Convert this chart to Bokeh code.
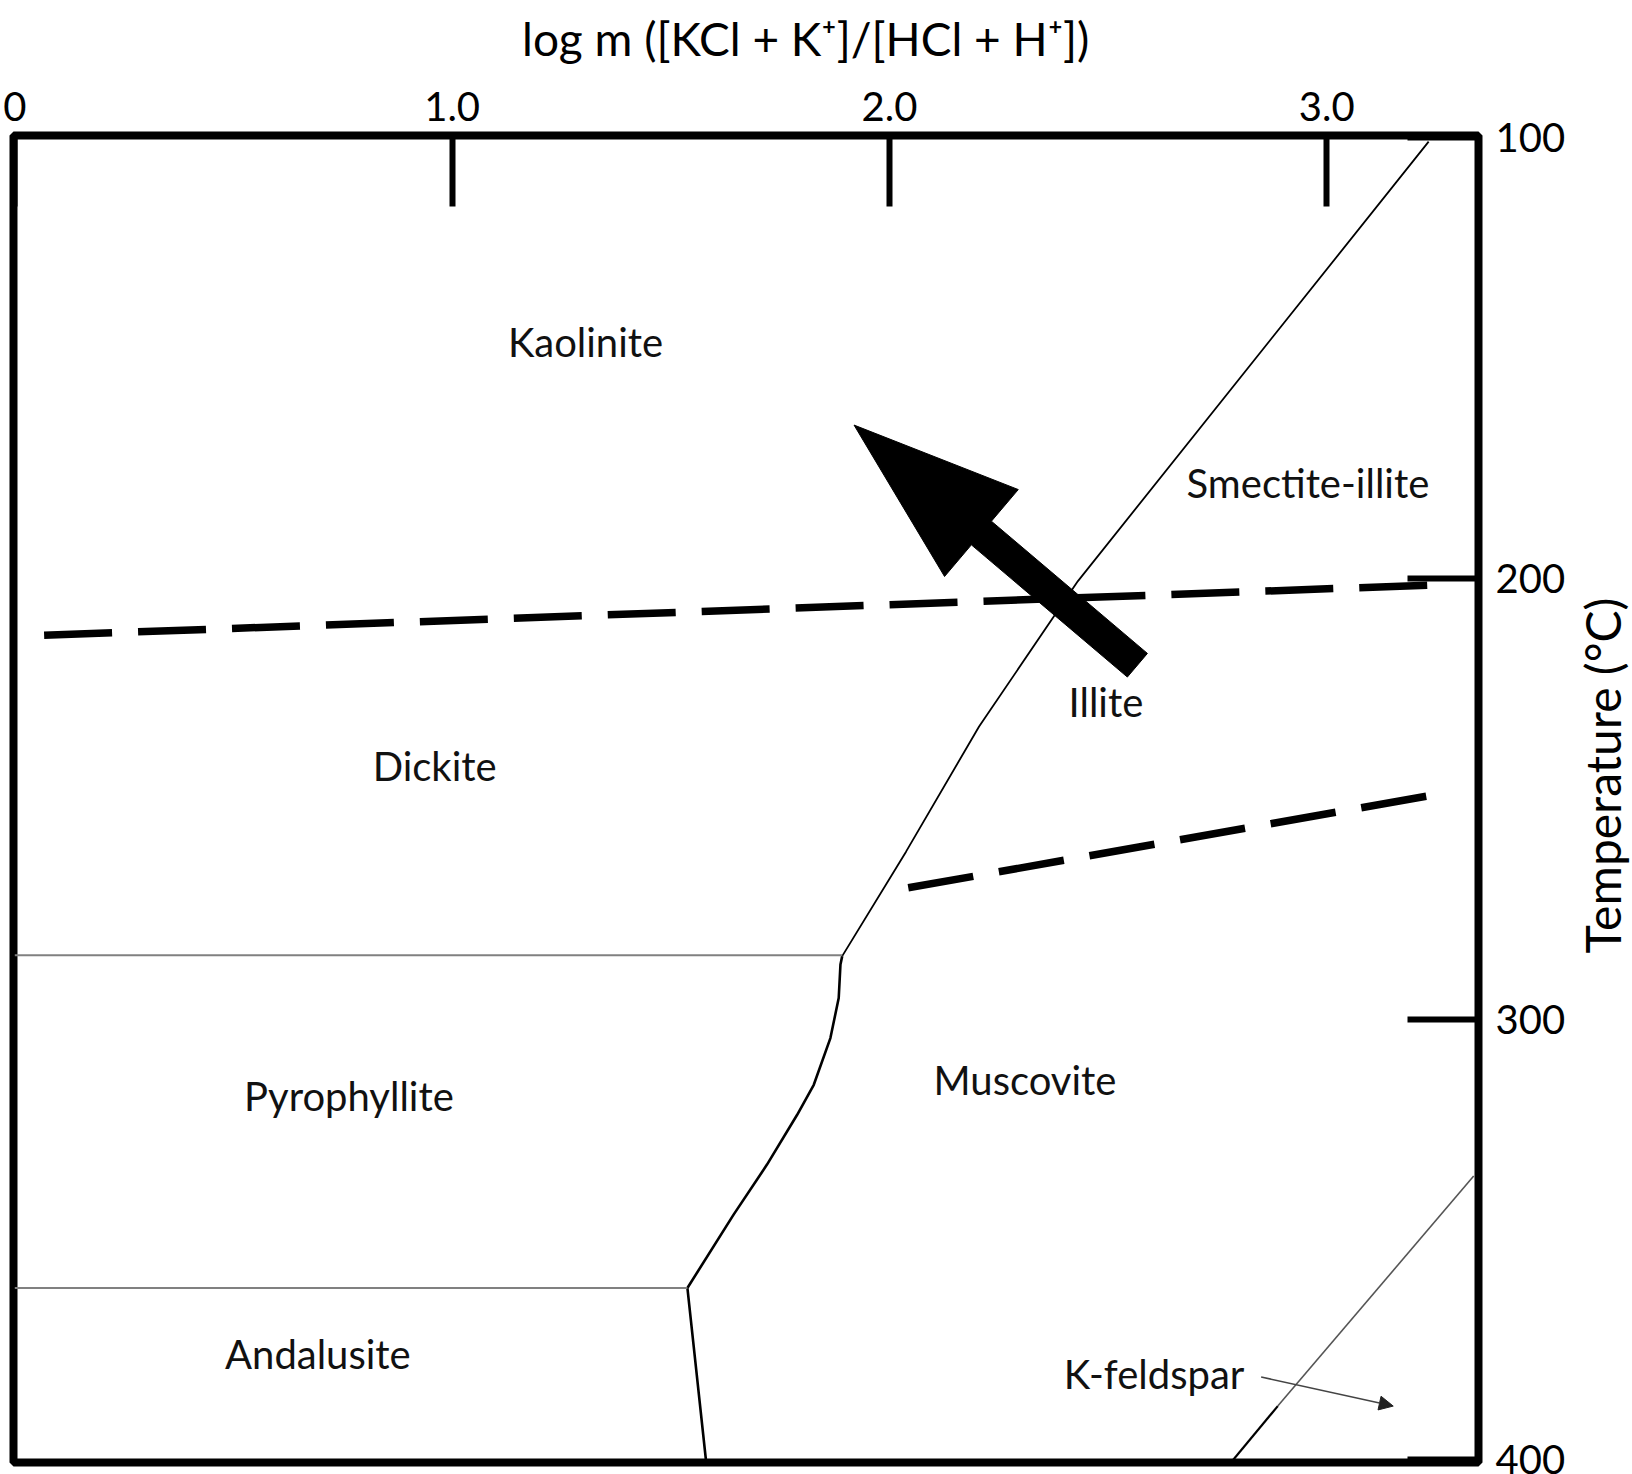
import math
from bokeh.plotting import figure
from bokeh.layouts import row, column
from bokeh.models import Range1d, LinearAxis, FixedTicker, Arrow, NormalHead
from bokeh.core.properties import value
from bokeh.embed import file_html
from bokeh.resources import INLINE

FONT = "Lato"

# ---------------- data ----------------
x_ticks = [0, 1, 2, 3]
x_tick_labels = ["0", "1.0", "2.0", "3.0"]
t_ticks = [100, 200, 300, 400]
t_tick_labels = ["100", "200", "300", "400"]
x_title = "log m ([KCl + K\u207a]/[HCl + H\u207a])"
t_title = "Temperature (\u00b0C)"

# boundary kaolinite/dickite | smectite-illite/illite (upper part)
upper_x = [3.233, 2.431, 2.205, 2.038, 1.892]
upper_t = [100.9, 200.6, 233.6, 262.0, 285.7]
# boundary pyrophyllite/andalusite | muscovite (lower part)
lower_x = [1.892, 1.888, 1.884, 1.865, 1.827, 1.789, 1.720, 1.644, 1.538, 1.581]
lower_t = [285.7, 287.6, 295.2, 304.3, 314.9, 321.7, 333.0, 344.3, 361.0, 400.6]
# dickite / pyrophyllite
dick_pyro_x = [0.0, 1.892]
dick_pyro_t = [285.5, 285.5]
# pyrophyllite / andalusite
pyro_anda_x = [0.0, 1.538]
pyro_anda_t = [361.0, 361.0]
# muscovite / K-feldspar
kfs_x = [3.336, 2.888]
kfs_t = [335.6, 387.8]
kfs_low_x = [2.888, 2.781]
kfs_low_t = [387.8, 400.6]
# K-feldspar pointer
ptr_x = [2.850, 3.152]
ptr_t = [381.2, 387.8]
# dashed lines
dash1_x = [0.067, 3.240]
dash1_t = [212.9, 201.5]
dash2_x = [2.043, 3.252]
dash2_t = [270.2, 249.0]
# big arrow (tail -> tip)
arrow_tail = (2.567, 219.7)
arrow_tip = (1.919, 165.2)

labels = ["Kaolinite", "Smectite-illite", "Illite", "Dickite", "Pyrophyllite",
          "Muscovite", "Andalusite", "K-feldspar"]
label_x = [1.305, 2.957, 2.495, 0.960, 0.764, 2.310, 0.693, 2.605]
label_t = [146.3, 178.4, 228.0, 242.6, 317.4, 313.9, 376.0, 380.5]

# ---------------- layout sizes ----------------
TOTAL_W, TOTAL_H = 1632, 1474
W2 = 62                      # right strip holding the temperature title
HT = 75                      # top strip holding the x title
W = TOTAL_W - W2
H = TOTAL_H - HT
BL, BT, BB = 13, 135 - HT, 12
FW = 1465
BR = W - BL - FW
FH = H - BT - BB

# ---------------- main figure ----------------
X0, X1 = -0.003, 3.347
T_BOTTOM, T_TOP = 400.6, 99.5

p = figure(width=W, height=H,
           x_range=Range1d(X0, X1), y_range=Range1d(T_BOTTOM, T_TOP),
           output_backend="svg", toolbar_location=None, title_location=None,
           x_axis_location=None, y_axis_location=None,
           min_border_left=BL, min_border_top=BT, min_border_right=BR, min_border_bottom=BB)
p.grid.visible = False
p.outline_line_color = "black"
p.outline_line_width = 8
p.background_fill_color = "white"
p.border_fill_color = "white"

xa = LinearAxis(ticker=FixedTicker(ticks=x_ticks),
                major_label_overrides={t: l for t, l in zip(x_ticks, x_tick_labels)})
ya = LinearAxis(ticker=FixedTicker(ticks=t_ticks),
                major_label_overrides={t: l for t, l in zip(t_ticks, t_tick_labels)})
for ax in (xa, ya):
    ax.axis_line_color = None
    ax.major_tick_in = 71
    ax.major_tick_out = 0
    ax.major_tick_line_width = 6
    ax.major_tick_line_color = "black"
    ax.minor_tick_line_color = None
    ax.major_label_text_font = FONT
    ax.major_label_text_font_size = "40px"
    ax.major_label_text_color = "black"
xa.major_label_standoff = 15
ya.major_label_standoff = 17
p.add_layout(xa, "above")
p.add_layout(ya, "right")

# region boundaries
p.line(upper_x, upper_t, line_color="black", line_width=1.8)
p.line(lower_x, lower_t, line_color="black", line_width=2.6)
p.line(dick_pyro_x, dick_pyro_t, line_color="#808080", line_width=2.2)
p.line(pyro_anda_x, pyro_anda_t, line_color="#808080", line_width=2.2)
p.line(kfs_x, kfs_t, line_color="#555555", line_width=1.6)
p.line(kfs_low_x, kfs_low_t, line_color="black", line_width=2.2)

# dashed boundaries
p.line(dash1_x, dash1_t, line_color="black", line_width=7.5, line_dash="68 26", line_cap="butt")
p.line(dash2_x, dash2_t, line_color="black", line_width=7.5, line_dash="66 26", line_cap="butt")

# K-feldspar pointer
p.add_layout(Arrow(x_start=ptr_x[0], y_start=ptr_t[0], x_end=ptr_x[1], y_end=ptr_t[1],
                   line_color="#444444", line_width=1.6,
                   end=NormalHead(size=14, fill_color="#222222", line_color="#222222")))

# big arrow polygon built in screen-proportional units
kx = FW / (X1 - X0)
kt = FH / (T_BOTTOM - T_TOP)
shaft_hw, head_len, head_hw = 15.5, 167.0, 57.0
dxp = (arrow_tip[0] - arrow_tail[0]) * kx
dyp = (arrow_tip[1] - arrow_tail[1]) * kt
L = math.hypot(dxp, dyp)
ux, uy = dxp / L, dyp / L
nx, ny = -uy, ux
bx, by = dxp - ux * head_len, dyp - uy * head_len
pts = [(nx * shaft_hw, ny * shaft_hw), (bx + nx * shaft_hw, by + ny * shaft_hw),
       (bx + nx * head_hw, by + ny * head_hw), (dxp, dyp),
       (bx - nx * head_hw, by - ny * head_hw), (bx - nx * shaft_hw, by - ny * shaft_hw),
       (-nx * shaft_hw, -ny * shaft_hw)]
ax_ = [arrow_tail[0] + px / kx for px, py in pts]
at_ = [arrow_tail[1] + py / kt for px, py in pts]
p.patch(ax_, at_, fill_color="black", line_color="black", line_width=1)

# region labels
p.text(label_x, label_t, text=labels, text_font=value(FONT), text_font_size="40px",
       text_align="center", text_baseline="middle", text_color="#111111")


def strip(width, height):
    # pixel-based ranges so that text anchors are given in strip pixels
    f = figure(width=width, height=height, x_range=Range1d(0, width), y_range=Range1d(height, 0),
               output_backend="svg", toolbar_location=None, title_location=None,
               x_axis_location=None, y_axis_location=None, min_border=0)
    f.grid.visible = False
    f.outline_line_color = None
    f.background_fill_color = "white"
    f.border_fill_color = "white"
    return f


# ---------------- top strip: x title ----------------
top = strip(W, HT)
top.text(x=[849.0], y=[38.0], text=[x_title],
         text_font=value(FONT), text_font_size="46px",
         text_align="center", text_baseline="alphabetic", text_color="black")

# ---------------- right strip: temperature title ----------------
p2 = strip(W2, TOTAL_H)
p2.text(x=[32.0], y=[775.0], text=[t_title], angle=math.pi / 2,
        text_font=value(FONT), text_font_size="48px",
        text_align="center", text_baseline="middle", text_color="black")

layout = row(column(top, p, spacing=0), p2, spacing=0)
open("out.html", "w").write(file_html(layout, INLINE))
